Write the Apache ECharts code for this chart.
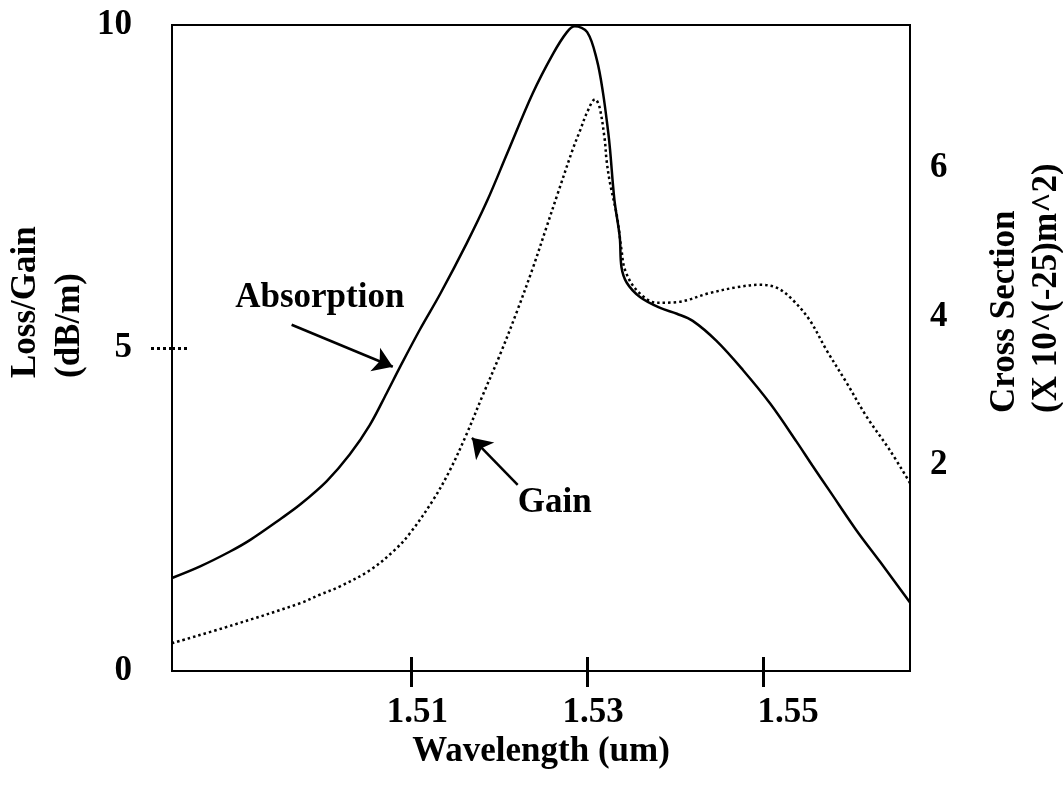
<!DOCTYPE html>
<html>
<head>
<meta charset="utf-8">
<script src="https://cdn.jsdelivr.net/npm/echarts@6/dist/echarts.min.js"></script>
<style>
  html, body { margin: 0; background: #fff; }
  #chart { width: 1063px; height: 789px; }
</style>
</head>
<body>
<div id="chart"></div>
<script>
// wavelength (um) / loss-gain (dB/m)
const absorption = [
  [1.4828, 1.44], [1.4860, 1.62], [1.4894, 1.85], [1.4917, 2.03], [1.4951, 2.35],
  [1.4974, 2.58], [1.5004, 2.94], [1.5030, 3.35], [1.5053, 3.81], [1.5072, 4.30],
  [1.5087, 4.70], [1.5110, 5.29], [1.5133, 5.84], [1.5163, 6.62], [1.5186, 7.27],
  [1.5209, 8.01], [1.5238, 8.94], [1.5261, 9.55], [1.5277, 9.89], [1.5286, 9.98],
  [1.5300, 9.89], [1.5311, 9.46], [1.5318, 8.95], [1.5324, 8.33], [1.5326, 8.07],
  [1.5331, 7.29], [1.5337, 6.72], [1.5339, 6.25], [1.5345, 6.01], [1.5360, 5.79],
  [1.5383, 5.62], [1.5402, 5.53], [1.5420, 5.42], [1.5447, 5.11], [1.5477, 4.66],
  [1.5508, 4.14], [1.5538, 3.55], [1.5556, 3.18], [1.5576, 2.78], [1.5606, 2.18],
  [1.5633, 1.69], [1.5667, 1.06]
];
const gain = [
  [1.4828, 0.43], [1.4897, 0.71], [1.4974, 1.05], [1.4996, 1.18], [1.5019, 1.31],
  [1.5053, 1.56], [1.5081, 1.87], [1.5099, 2.14], [1.5125, 2.65], [1.5144, 3.11],
  [1.5163, 3.67], [1.5181, 4.26], [1.5201, 4.90], [1.5220, 5.56], [1.5238, 6.23],
  [1.5254, 6.88], [1.5266, 7.37], [1.5284, 8.09], [1.5292, 8.37], [1.5300, 8.65],
  [1.5309, 8.85], [1.5314, 8.73], [1.5320, 8.22], [1.5322, 7.91], [1.5326, 7.55],
  [1.5334, 7.03], [1.5339, 6.52], [1.5343, 6.21], [1.5356, 5.90], [1.5379, 5.70],
  [1.5402, 5.71], [1.5439, 5.85], [1.5470, 5.94], [1.5496, 5.98], [1.5516, 5.93],
  [1.5534, 5.74], [1.5553, 5.43], [1.5572, 4.97], [1.5595, 4.46], [1.5618, 3.93],
  [1.5644, 3.42], [1.5667, 2.91]
];
const xTicks = [1.51, 1.53, 1.55];
const leftTicks = [0, 5, 10];
const rightTicks = [2, 4, 6];

// annotation arrows [from, to] and label anchors, in data units
const absArrow = [[1.4964, 5.36], [1.5079, 4.71]];
const gainArrow = [[1.5221, 2.88], [1.5169, 3.61]];
const absLabel = [1.4996, 5.77];
const gainLabel = [1.5263, 2.60];

const FONT = 'Liberation Serif';
const txt = { color: '#000', fontFamily: FONT, fontWeight: 'bold', fontSize: 35 };
const black = '#000';

const chart = echarts.init(document.getElementById('chart'));

const gridBox = { left: 172, top: 25, width: 738, height: 646 };

function arrowLine(pts) {
  return {
    silent: true,
    symbol: ['none', 'arrow'],
    symbolSize: 19,
    lineStyle: { color: black, width: 2.5, type: 'solid' },
    label: { show: false },
    data: [[{ coord: pts[0] }, { coord: pts[1] }]]
  };
}
function textPoint(pos, text) {
  return {
    silent: true,
    symbol: 'circle',
    symbolSize: 1,
    itemStyle: { color: 'rgba(0,0,0,0)' },
    label: Object.assign({ show: true, position: 'inside', formatter: text }, txt),
    data: [{ coord: pos }]
  };
}

const option = {
  animation: false,
  backgroundColor: '#fff',
  grid: [
    Object.assign({ show: true, borderColor: black, borderWidth: 2 }, gridBox),
    Object.assign({}, gridBox)
  ],
  xAxis: [
    {
      type: 'value', gridIndex: 0,
      min: 1.4828, max: 1.5667,
      axisLine: { lineStyle: { color: black, width: 2 } },
      axisTick: { customValues: xTicks, length: 16, lineStyle: { color: black, width: 3 } },
      axisLabel: Object.assign({
        customValues: xTicks, margin: 24,
        formatter: v => (v > 1.54 ? '{f|' : '{s|') + v.toFixed(2) + '}',
        rich: {
          s: Object.assign({ padding: [0, 0, 0, 12] }, txt),
          f: Object.assign({ padding: [0, 0, 0, 50] }, txt)
        }
      }, txt),
      splitLine: { show: false },
      name: 'Wavelength (um)', nameLocation: 'middle', nameGap: 62,
      nameTextStyle: txt
    },
    {
      type: 'value', gridIndex: 1,
      min: 1.4828, max: 1.5667,
      axisLine: { show: false },
      axisTick: { customValues: xTicks, inside: true, length: 14, lineStyle: { color: black, width: 3 } },
      axisLabel: { show: false },
      splitLine: { show: false }
    }
  ],
  yAxis: [
    {
      type: 'value', gridIndex: 0, position: 'left',
      min: 0, max: 10,
      axisLine: { show: true, lineStyle: { color: black, width: 2 } },
      axisTick: { show: true, customValues: [5], length: 22, lineStyle: { color: black, width: 3, type: [3, 3] } },
      axisLabel: Object.assign({ customValues: leftTicks, margin: 40 }, txt),
      splitLine: { show: false }
    },
    {
      type: 'value', gridIndex: 0, position: 'right',
      min: -0.772, max: 7.929,
      axisLine: { show: true, lineStyle: { color: black, width: 2 } },
      axisTick: { show: false },
      axisLabel: Object.assign({ customValues: rightTicks, margin: 20 }, txt),
      splitLine: { show: false }
    },
    {
      type: 'value', gridIndex: 1, position: 'left',
      min: 0, max: 10,
      axisLine: { show: false },
      axisTick: { show: true, inside: true, customValues: [5], length: 16, lineStyle: { color: black, width: 3, type: [3, 3] } },
      axisLabel: { show: false },
      splitLine: { show: false }
    }
  ],
  graphic: [
    { type: 'text', x: 26, y: 378, rotation: Math.PI / 2,
      style: { text: 'Loss/Gain', font: 'bold 35px ' + FONT, fill: black, textAlign: 'left', textVerticalAlign: 'middle' } },
    { type: 'text', x: 70, y: 378, rotation: Math.PI / 2,
      style: { text: '(dB/m)', font: 'bold 35px ' + FONT, fill: black, textAlign: 'left', textVerticalAlign: 'middle' } },
    { type: 'text', x: 1005, y: 413, rotation: Math.PI / 2,
      style: { text: 'Cross Section', font: 'bold 35px ' + FONT, fill: black, textAlign: 'left', textVerticalAlign: 'middle' } },
    { type: 'text', x: 1047, y: 413, rotation: Math.PI / 2,
      style: { text: '(X 10^(-25)m^2)', font: 'bold 35px ' + FONT, fill: black, textAlign: 'left', textVerticalAlign: 'middle' } }
  ],
  series: [
    {
      name: 'Absorption', type: 'line',
      xAxisIndex: 0, yAxisIndex: 0,
      data: absorption,
      symbol: 'none', smooth: 0.35,
      lineStyle: { color: black, width: 2.5 },
      markLine: arrowLine(absArrow),
      markPoint: textPoint(absLabel, 'Absorption')
    },
    {
      name: 'Gain', type: 'line',
      xAxisIndex: 0, yAxisIndex: 0,
      data: gain,
      symbol: 'none', smooth: 0.35,
      lineStyle: { color: black, width: 2.5, type: [2.5, 3] },
      markLine: arrowLine(gainArrow),
      markPoint: textPoint(gainLabel, 'Gain')
    }
  ]
};

chart.setOption(option);
window.addEventListener('resize', () => chart.resize());
</script>
</body>
</html>
